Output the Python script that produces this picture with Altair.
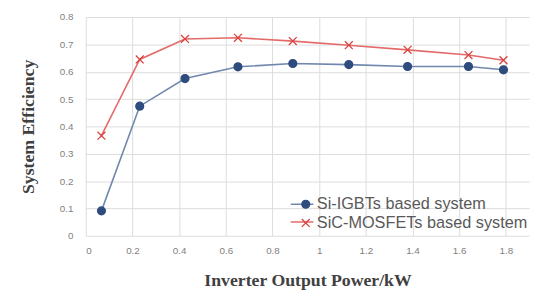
import altair as alt
import pandas as pd

power_kw = [0.067, 0.231, 0.425, 0.652, 0.887, 1.127, 1.379, 1.64, 1.79]
si_igbt = [0.091, 0.474, 0.575, 0.618, 0.630, 0.626, 0.619, 0.619, 0.607]
sic_mosfet = [0.366, 0.645, 0.720, 0.724, 0.712, 0.697, 0.680, 0.661, 0.642]
series_names = ["Si-IGBTs based system", "SiC-MOSFETs based system"]
x_ticks = [0, 0.2, 0.4, 0.6, 0.8, 1.0, 1.2, 1.4, 1.6, 1.8]
y_ticks = [0, 0.1, 0.2, 0.3, 0.4, 0.5, 0.6, 0.7, 0.8]

rows = []
for name, vals in zip(series_names, [si_igbt, sic_mosfet]):
    for x, y in zip(power_kw, vals):
        rows.append({"power": x, "eff": y, "series": name, "line_series": name})
df = pd.DataFrame(rows)

line_colors = ["#7088ad", "#e46a6a"]
marker_colors = ["#2f4c7e", "#d9413f"]
shapes = ["circle", "M-1,-1L1,1M-1,1L1,-1"]

x_enc = alt.X("power:Q", scale=alt.Scale(domain=[0, 1.9], nice=False),
              axis=alt.Axis(values=x_ticks, format="~g", title="Inverter Output Power/kW",
                            labelPadding=10, titlePadding=17))
y_enc = alt.Y("eff:Q", scale=alt.Scale(domain=[0, 0.8], nice=False),
              axis=alt.Axis(values=y_ticks, title="System Efficiency",
                            labelExpr="datum.value == 0 ? '0' : format(datum.value, '.1f')",
                            labelPadding=13, titlePadding=22))

lines = alt.Chart(df).mark_line(strokeWidth=1.6).encode(
    x=x_enc, y=y_enc,
    color=alt.Color("line_series:N", sort="ascending",
                    scale=alt.Scale(range=line_colors),
                    legend=alt.Legend(orient="none", legendX=207, legendY=182, title=None,
                                      symbolType="stroke", symbolSize=529, symbolStrokeWidth=1.6,
                                      clipHeight=16, rowPadding=2, padding=0,
                                      labelFontSize=16, labelExpr="''")),
    detail="series:N",
)

pt_legend = dict(orient="none", legendX=215, legendY=182, title=None,
                 symbolSize=64, clipHeight=16, rowPadding=2, padding=0,
                 labelOffset=3, labelFontSize=16.5, labelColor="#595959", labelLimit=400,
                 labelFont="Liberation Sans", symbolStrokeWidth=1.3)

points = alt.Chart(df).mark_point(filled=True, strokeWidth=1.3, opacity=1, size=64).encode(
    x=x_enc, y=y_enc,
    fill=alt.Fill("series:N", scale=alt.Scale(domain=series_names, range=marker_colors),
                  legend=alt.Legend(**pt_legend)),
    stroke=alt.Stroke("series:N", scale=alt.Scale(domain=series_names, range=marker_colors),
                      legend=alt.Legend(**pt_legend)),
    shape=alt.Shape("series:N", scale=alt.Scale(domain=series_names, range=shapes),
                    legend=alt.Legend(**pt_legend)),
)

chart = alt.layer(lines, points).properties(
    width=450, height=222,
    autosize=alt.AutoSizeParams(type="none"),
    padding={"left": 79, "top": 7, "right": 10, "bottom": 60},
    background="white",
).configure_view(stroke=None).configure_axis(
    domain=False, ticks=False, grid=True, gridColor="#dcdcdc", gridWidth=1,
    labelFont="Liberation Sans", labelFontSize=10, labelColor="#7f7f7f",
    titleFont="Liberation Serif", titleFontSize=18, titleFontWeight="bold", titleColor="#404040",
)

chart.save("out.html", embed_options={"renderer": "svg", "actions": False})
